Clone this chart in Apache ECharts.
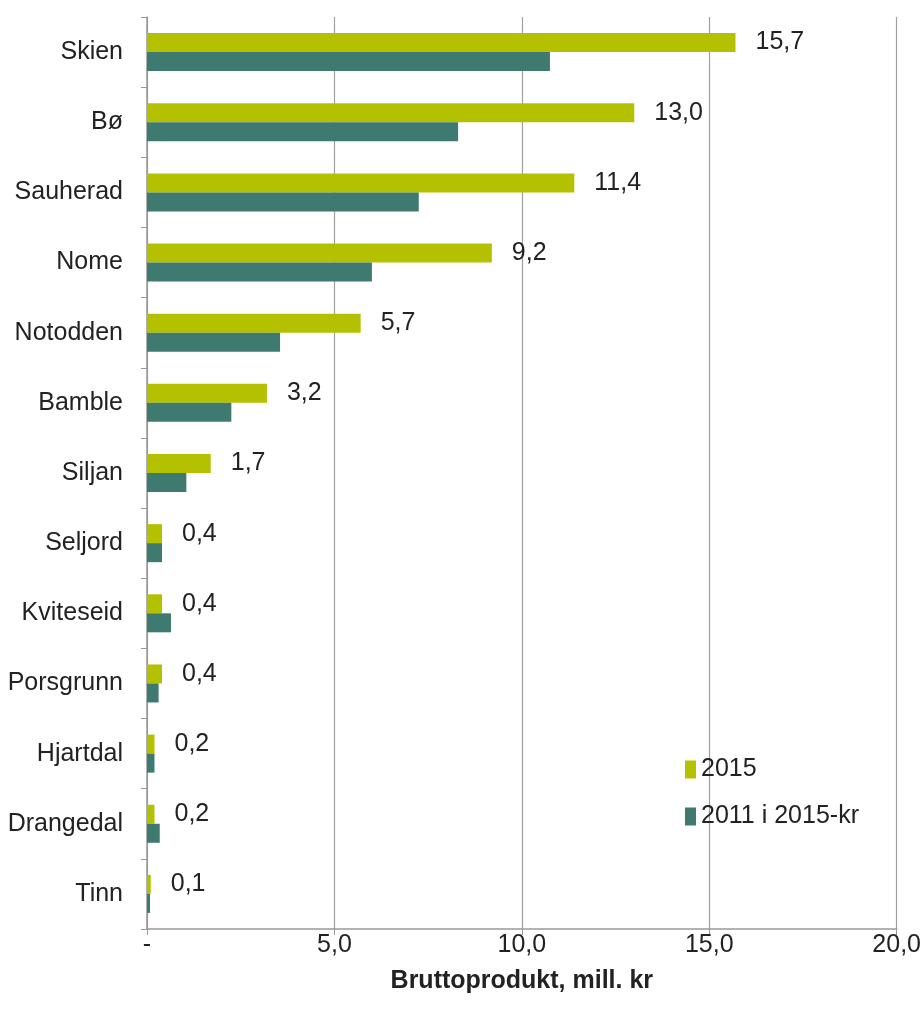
<!DOCTYPE html>
<html>
<head>
<meta charset="utf-8">
<script src="https://cdn.jsdelivr.net/npm/echarts@6/dist/echarts.min.js"></script>
<style>
  html, body { margin: 0; padding: 0; background: #fff; }
  #chart { width: 924px; height: 1012px; }
</style>
</head>
<body>
<div id="chart"></div>
<script>
const kommuner = ['Skien', 'Bø', 'Sauherad', 'Nome', 'Notodden', 'Bamble', 'Siljan', 'Seljord', 'Kviteseid', 'Porsgrunn', 'Hjartdal', 'Drangedal', 'Tinn'];
const verdi2015 = [15.7, 13.0, 11.4, 9.2, 5.7, 3.2, 1.7, 0.4, 0.4, 0.4, 0.2, 0.2, 0.1];
const verdi2011 = [10.75, 8.3, 7.25, 6.0, 3.55, 2.25, 1.05, 0.4, 0.64, 0.31, 0.2, 0.34, 0.08];
const xTicks = ['-', '5,0', '10,0', '15,0', '20,0'];

const font = "'Liberation Sans', Arial, sans-serif";
const gul = '#b4c100';
const gronn = '#3f7a70';
const fs = 25;

const chart = echarts.init(document.getElementById('chart'));

chart.setOption({
  animation: false,
  textStyle: { fontFamily: font },
  grid: { left: 147, right: 26, top: 17, bottom: 83 },
  legend: {
    orient: 'vertical',
    left: 680,
    top: 752,
    icon: 'rect',
    itemWidth: 11,
    itemHeight: 18,
    itemGap: 22,
    textStyle: { fontFamily: font, fontSize: fs, color: '#222' },
    data: [
      { name: '2015', itemStyle: { color: gul } },
      { name: '2011 i 2015-kr', itemStyle: { color: gronn } },
    ],
  },
  xAxis: {
    type: 'value',
    min: 0,
    max: 20,
    interval: 5,
    axisLine: { show: true, lineStyle: { color: '#999', width: 1.5 } },
    axisTick: { show: true, length: 6, lineStyle: { color: '#999' } },
    splitLine: { show: true, lineStyle: { color: '#a0a0a0', width: 1.2 } },
    axisLabel: {
      fontFamily: font,
      fontSize: fs,
      color: '#222',
      margin: 4,
      formatter: (v) => xTicks[v / 5],
    },
    name: 'Bruttoprodukt, mill. kr',
    nameLocation: 'middle',
    nameGap: 40,
    nameTextStyle: { fontFamily: font, fontSize: fs, fontWeight: 'bold', color: '#222' },
  },
  yAxis: {
    type: 'category',
    inverse: true,
    data: kommuner,
    axisLine: { show: true, lineStyle: { color: '#999', width: 1.5 } },
    axisTick: { show: true, length: 6, lineStyle: { color: '#999' } },
    axisLabel: { fontFamily: font, fontSize: fs, color: '#222', margin: 24 },
  },
  series: [
    {
      name: '2015',
      type: 'bar',
      data: verdi2015,
      barWidth: 19,
      barGap: '0%',
      itemStyle: { color: gul },
      label: {
        show: true,
        position: 'right',
        distance: 20,
        fontFamily: font,
        fontSize: fs,
        color: '#222',
        formatter: (p) => p.value.toFixed(1).replace('.', ','),
      },
    },
    {
      name: '2011 i 2015-kr',
      type: 'bar',
      data: verdi2011,
      barWidth: 19,
      barGap: '0%',
      itemStyle: { color: gronn },
    },
  ],
});
</script>
</body>
</html>
